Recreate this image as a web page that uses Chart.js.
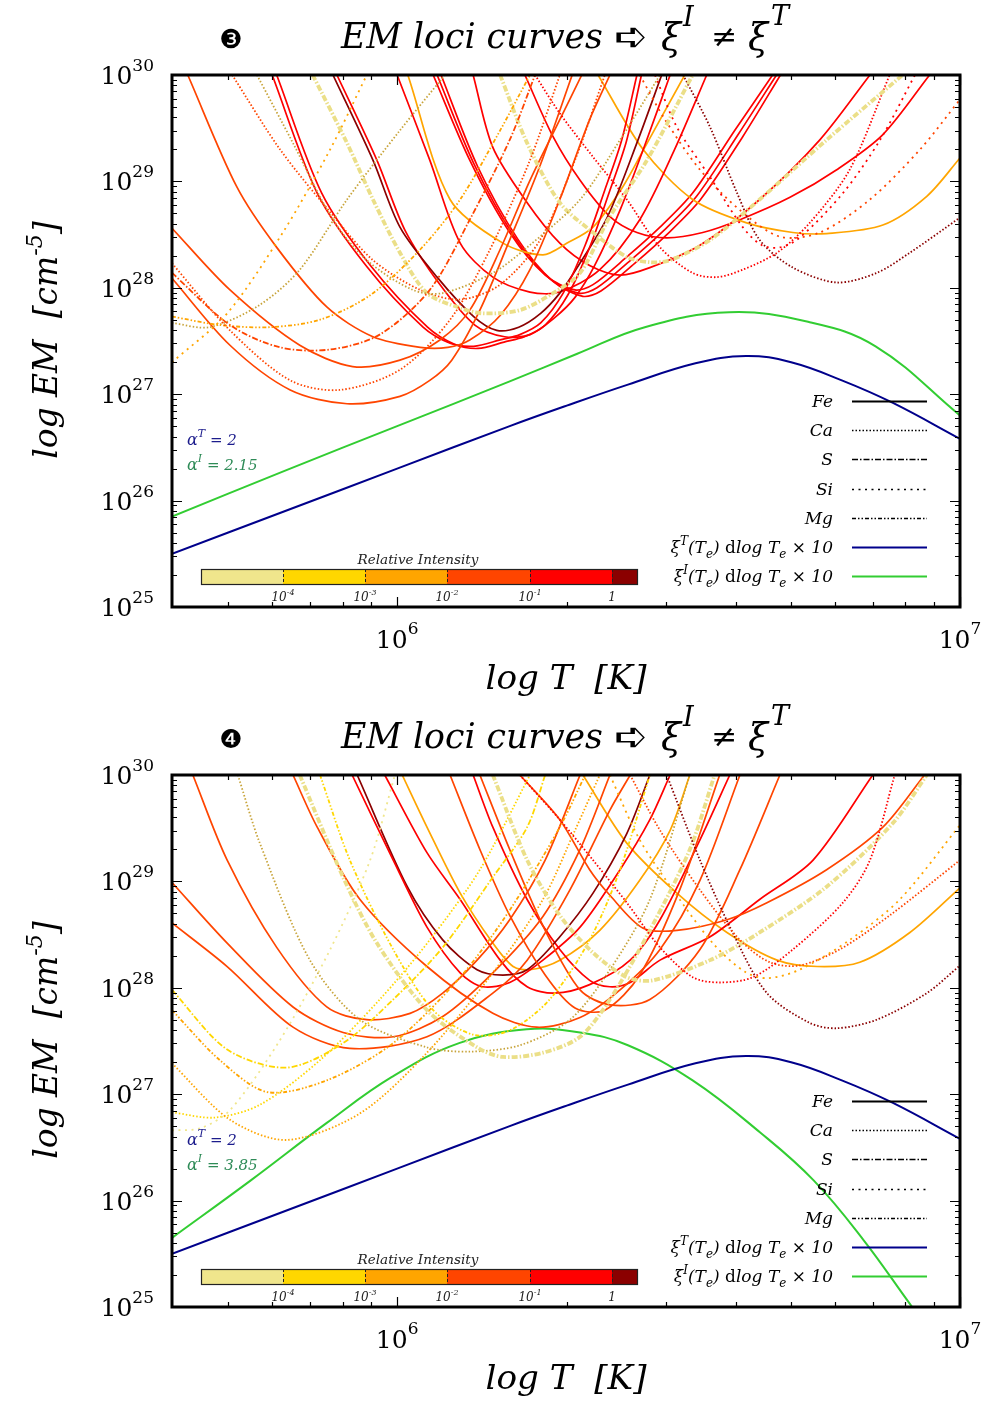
<!DOCTYPE html>
<html>
<head>
<meta charset="utf-8">
<script src="https://cdn.jsdelivr.net/npm/chart.js@4.4.1/dist/chart.umd.min.js"></script>
<style>
  html, body { margin: 0; padding: 0; background: #fff; }
  #wrap { position: relative; width: 984px; height: 1403px; }
  .panel { position: absolute; left: 0; width: 984px; }
</style>
</head>
<body>
<div id="wrap">
  <div class="panel" style="top:0;height:700px"><canvas id="c3" width="984" height="700"></canvas></div>
  <div class="panel" style="top:700px;height:703px"><canvas id="c4" width="984" height="703"></canvas></div>
</div>
<script>
// ******************************************************** DATA

// axis ranges, log10 of T [K] and EM [cm^-5]
const logTRange  = [5.6, 7.0];
const logEMRange = [25, 30];
const xTickDecades = [6, 7];
const yTickDecades = [25, 26, 27, 28, 29, 30];

// relative intensity bins: 0 = <1e-4 ... 5 = >1
const intensityExps = [-4, -3, -2, -1, 0];
const elements = ['Fe', 'Ca', 'S', 'Si', 'Mg'];

// xi^T(Te) dlogTe x 10, same in both panels
const xiT_logT  = [5.6, 5.8, 6.0, 6.2, 6.3, 6.41, 6.53, 6.62, 6.70, 6.79, 6.88, 7.0];
const xiT_logEM = [25.50, 25.90, 26.30, 26.70, 26.89, 27.09, 27.29, 27.36, 27.30, 27.13, 26.92, 26.58];

// xi^I(Te) dlogTe x 10
const xiI3_logT  = [5.6, 5.8, 6.0, 6.2, 6.32, 6.44, 6.59, 6.73, 6.85, 7.0];
const xiI3_logEM = [25.85, 26.28, 26.70, 27.12, 27.38, 27.63, 27.77, 27.68, 27.45, 26.80];
const xiI4_logT  = [5.6, 5.74, 5.875, 5.99, 6.11, 6.23, 6.325, 6.41, 6.525, 6.645, 6.74, 6.83, 6.915, 7.0];
const xiI4_logEM = [25.65, 26.19, 26.73, 27.16, 27.48, 27.61, 27.58, 27.46, 27.13, 26.64, 26.19, 25.62, 25.0, 24.4];

const alphaT  = '2';
const alphaI3 = '2.15';
const alphaI4 = '3.85';

// EM loci curves, panel 3
const loci3 = [
  { el: 'Ca', bin: 3, logT: [5.60, 5.703, 5.81, 5.898, 6.005, 6.094, 6.165, 6.236, 6.289],
    logEM: [28.23, 27.60, 27.13, 27.04, 27.23, 27.70, 28.36, 29.20, 30.0] },
  { el: 'S', bin: 3, logT: [5.60, 5.703, 5.792, 5.881, 5.969, 6.058, 6.129, 6.20, 6.245],
    logEM: [28.14, 27.65, 27.44, 27.42, 27.56, 27.98, 28.64, 29.39, 30.0] },
  { el: 'Mg', bin: 2, logT: [5.60, 5.685, 5.774, 5.863, 5.952, 6.041, 6.112, 6.183, 6.236],
    logEM: [27.73, 27.65, 27.63, 27.70, 27.93, 28.36, 28.83, 29.48, 30.0] },
  { el: 'Ca', bin: 0, logT: [5.60, 5.667, 5.756, 5.827, 5.911, 6.005, 6.085],
    logEM: [27.67, 27.63, 27.84, 28.17, 28.83, 29.48, 30.0] },
  { el: 'Si', bin: 2, logT: [5.60, 5.698, 5.797, 5.881, 5.946],
    logEM: [27.30, 27.76, 28.52, 29.30, 30.0] },
  { el: 'Ca', bin: 0, logT: [5.751, 5.815, 5.886, 5.946, 6.028, 6.081, 6.170, 6.231, 6.325, 6.396, 6.467],
    logEM: [30.0, 29.36, 28.64, 28.26, 27.98, 27.95, 28.14, 28.38, 28.83, 29.39, 30.0] },
  { el: 'S', bin: 0, logT: [5.85, 5.911, 5.957, 6.005, 6.053, 6.112, 6.152, 6.218, 6.277, 6.325, 6.378, 6.444, 6.525],
    logEM: [30.0, 29.36, 28.83, 28.33, 27.95, 27.81, 27.76, 27.79, 27.95, 28.14, 28.67, 29.20, 30.0] },
  { el: 'S', bin: 0, logT: [6.183, 6.231, 6.289, 6.348, 6.408, 6.449, 6.485, 6.556, 6.644, 6.763, 6.898],
    logEM: [30.0, 29.36, 28.80, 28.52, 28.29, 28.24, 28.26, 28.45, 28.83, 29.39, 30.0] },
  { el: 'Ca', bin: 4, logT: [6.245, 6.289, 6.348, 6.408, 6.467, 6.525, 6.568, 6.614, 6.675, 6.733, 6.804, 6.875],
    logEM: [30.0, 29.64, 29.23, 28.83, 28.38, 28.14, 28.10, 28.17, 28.33, 28.61, 29.11, 30.0] },
  { el: 'Si', bin: 4, logT: [6.458, 6.497, 6.556, 6.614, 6.648, 6.680, 6.715, 6.792, 6.858, 6.920],
    logEM: [30.0, 29.51, 29.04, 28.57, 28.40, 28.38, 28.47, 28.89, 29.39, 30.0] },
  { el: 'Si', bin: 3, logT: [6.431, 6.476, 6.538, 6.609, 6.680, 6.751, 6.840, 6.929, 7.0],
    logEM: [30.0, 29.58, 29.11, 28.73, 28.48, 28.52, 28.83, 29.30, 29.77] },
  { el: 'Ca', bin: 5, logT: [6.508, 6.556, 6.604, 6.644, 6.703, 6.781, 6.852, 6.911, 7.0],
    logEM: [30.0, 29.51, 28.89, 28.45, 28.19, 28.05, 28.14, 28.33, 28.66] },
  { el: 'Ca', bin: 3, logT: [5.707, 5.792, 5.886, 5.957, 6.041, 6.112, 6.183, 6.254, 6.316, 6.369],
    logEM: [30.0, 29.30, 28.68, 28.26, 27.98, 27.89, 28.03, 28.45, 29.20, 30.0] },

  { el: 'Fe', bin: 3, logT: [5.60, 5.703, 5.81, 5.911, 6.005, 6.058, 6.097, 6.147, 6.20, 6.254, 6.311],
    logEM: [28.09, 27.46, 27.04, 26.91, 26.98, 27.13, 27.32, 27.79, 28.45, 29.15, 30.0] },
  { el: 'Fe', bin: 3, logT: [5.60, 5.703, 5.827, 5.921, 6.005, 6.076, 6.129, 6.183, 6.236, 6.289, 6.328],
    logEM: [28.56, 27.98, 27.46, 27.26, 27.32, 27.51, 27.79, 28.36, 29.01, 29.58, 30.0] },
  { el: 'Fe', bin: 3, logT: [5.628, 5.715, 5.786, 5.875, 5.957, 6.041, 6.09, 6.129, 6.183, 6.236, 6.289, 6.342, 6.378],
    logEM: [30.0, 28.95, 28.38, 27.82, 27.54, 27.44, 27.44, 27.51, 27.74, 28.17, 28.83, 29.58, 30.0] },
  { el: 'Fe', bin: 4, logT: [5.778, 5.858, 5.946, 6.046, 6.094, 6.136, 6.183, 6.218, 6.255, 6.295, 6.334, 6.369, 6.399, 6.426],
    logEM: [30.0, 28.89, 28.20, 27.63, 27.48, 27.45, 27.51, 27.56, 27.67, 27.95, 28.40, 28.92, 29.39, 30.0] },
  { el: 'Fe', bin: 4, logT: [5.786, 5.866, 5.954, 6.054, 6.102, 6.144, 6.19, 6.226, 6.263, 6.303, 6.342, 6.377, 6.407, 6.434],
    logEM: [30.0, 28.89, 28.20, 27.63, 27.47, 27.43, 27.49, 27.54, 27.65, 27.93, 28.38, 28.90, 29.37, 30.0] },
  { el: 'Fe', bin: 5, logT: [5.886, 5.957, 6.005, 6.071, 6.136, 6.177, 6.216, 6.255, 6.289, 6.321, 6.374, 6.428, 6.47],
    logEM: [30.0, 29.20, 28.57, 28.10, 27.73, 27.60, 27.63, 27.76, 27.95, 28.20, 28.67, 29.39, 30.0] },
  { el: 'Fe', bin: 4, logT: [5.893, 5.964, 6.014, 6.076, 6.138, 6.191, 6.236, 6.28, 6.316, 6.351, 6.396, 6.44, 6.485],
    logEM: [30.0, 29.20, 28.54, 28.03, 27.65, 27.54, 27.56, 27.72, 27.91, 28.21, 28.73, 29.34, 30.0] },
  { el: 'Fe', bin: 4, logT: [6.0, 6.058, 6.112, 6.17, 6.236, 6.289, 6.36, 6.431, 6.493, 6.55],
    logEM: [30.0, 29.20, 28.42, 28.10, 27.96, 27.96, 28.17, 28.64, 29.30, 30.0] },
  { el: 'Fe', bin: 2, logT: [6.019, 6.094, 6.188, 6.259, 6.302, 6.348, 6.401, 6.44, 6.511],
    logEM: [30.0, 28.83, 28.42, 28.31, 28.42, 28.57, 28.95, 29.32, 30.0] },
  { el: 'Fe', bin: 2, logT: [6.357, 6.437, 6.525, 6.621, 6.703, 6.763, 6.863, 6.941, 7.0],
    logEM: [30.0, 29.30, 28.83, 28.61, 28.52, 28.51, 28.59, 28.86, 29.22] },
  { el: 'Fe', bin: 4, logT: [6.227, 6.277, 6.325, 6.378, 6.426, 6.479, 6.543, 6.609, 6.698, 6.781, 6.863, 6.946],
    logEM: [30.0, 29.42, 29.01, 28.67, 28.52, 28.47, 28.52, 28.64, 28.85, 29.11, 29.44, 30.0] },
  { el: 'Fe', bin: 4, logT: [6.135, 6.170, 6.231, 6.289, 6.342, 6.396, 6.449, 6.538, 6.644, 6.751, 6.840],
    logEM: [30.0, 29.32, 28.80, 28.42, 28.21, 28.12, 28.19, 28.40, 28.83, 29.39, 30.0] },
  { el: 'Fe', bin: 4, logT: [6.064, 6.129, 6.200, 6.263, 6.316, 6.348, 6.408, 6.467, 6.525, 6.600, 6.667],
    logEM: [30.0, 29.20, 28.52, 28.12, 27.98, 28.03, 28.29, 28.57, 28.89, 29.48, 30.0] },
  { el: 'Fe', bin: 4, logT: [6.071, 6.136, 6.207, 6.270, 6.323, 6.355, 6.415, 6.474, 6.532, 6.607, 6.674],
    logEM: [30.0, 29.17, 28.49, 28.09, 27.95, 28.00, 28.26, 28.54, 28.86, 29.45, 30.0] },
  { el: 'Fe', bin: 4, logT: [6.078, 6.143, 6.214, 6.277, 6.330, 6.362, 6.422, 6.481, 6.539, 6.614, 6.681],
    logEM: [30.0, 29.14, 28.46, 28.06, 27.92, 27.97, 28.23, 28.51, 28.83, 29.42, 30.0] }
];

// EM loci curves, panel 4
const loci4 = [
  { el: 'Ca', bin: 4, logT: [6.218, 6.289, 6.348, 6.408, 6.467, 6.525, 6.573, 6.632, 6.703, 6.792, 6.840, 6.884],
    logEM: [30.0, 29.58, 29.20, 28.80, 28.38, 28.10, 28.05, 28.10, 28.36, 28.80, 29.20, 30.0] },
  { el: 'Si', bin: 2, logT: [6.378, 6.431, 6.502, 6.564, 6.618, 6.657, 6.715, 6.804, 6.893, 7.0],
    logEM: [30.0, 29.39, 28.83, 28.40, 28.15, 28.09, 28.17, 28.45, 28.83, 29.53] },
  { el: 'Ca', bin: 3, logT: [6.414, 6.467, 6.538, 6.609, 6.662, 6.715, 6.786, 6.875, 7.0],
    logEM: [30.0, 29.48, 28.92, 28.45, 28.24, 28.21, 28.36, 28.68, 29.20] },
  { el: 'Ca', bin: 5, logT: [6.479, 6.538, 6.596, 6.657, 6.733, 6.781, 6.852, 6.941, 7.0],
    logEM: [30.0, 29.20, 28.52, 27.95, 27.67, 27.62, 27.70, 27.95, 28.21] },
  { el: 'S', bin: 0, logT: [6.170, 6.231, 6.289, 6.348, 6.408, 6.454, 6.556, 6.644, 6.763, 6.881, 6.941],
    logEM: [30.0, 29.20, 28.68, 28.33, 28.10, 28.07, 28.26, 28.52, 28.95, 29.55, 30.0] },
  { el: 'S', bin: 0, logT: [5.827, 5.904, 5.964, 6.053, 6.142, 6.188, 6.259, 6.325, 6.378, 6.449, 6.520, 6.564],
    logEM: [30.0, 29.04, 28.42, 27.79, 27.44, 27.35, 27.39, 27.54, 27.89, 28.54, 29.30, 30.0] },
  { el: 'S', bin: 1, logT: [5.60, 5.698, 5.804, 5.904, 5.993, 6.081, 6.170, 6.231, 6.263],
    logEM: [27.98, 27.42, 27.25, 27.48, 27.89, 28.38, 29.04, 29.51, 30.0] },
  { el: 'Mg', bin: 2, logT: [5.60, 5.685, 5.769, 5.875, 5.993, 6.112, 6.200, 6.289, 6.334],
    logEM: [27.79, 27.32, 27.02, 27.13, 27.48, 28.10, 28.73, 29.51, 30.0] },
  { el: 'Ca', bin: 2, logT: [5.60, 5.703, 5.804, 5.934, 6.053, 6.170, 6.259, 6.316, 6.360],
    logEM: [27.29, 26.76, 26.57, 26.82, 27.39, 28.14, 28.83, 29.48, 30.0] },
  { el: 'Si', bin: 0, logT: [5.60, 5.650, 5.703, 5.792, 5.881, 5.952, 5.996],
    logEM: [26.66, 26.68, 26.85, 27.51, 28.36, 29.20, 30.0] },
  { el: 'Ca', bin: 1, logT: [5.60, 5.676, 5.756, 5.863, 5.969, 6.058, 6.147, 6.236],
    logEM: [26.83, 26.78, 26.90, 27.32, 27.89, 28.45, 29.11, 30.0] },
  { el: 'Ca', bin: 0, logT: [5.717, 5.756, 5.845, 5.934, 6.053, 6.129, 6.218, 6.307, 6.378, 6.449, 6.520],
    logEM: [30.0, 29.36, 28.26, 27.70, 27.44, 27.40, 27.46, 27.70, 28.17, 28.83, 30.0] },
  { el: 'Mg', bin: 1, logT: [5.863, 5.916, 5.993, 6.064, 6.135, 6.200, 6.271, 6.342, 6.396, 6.449],
    logEM: [30.0, 29.20, 28.36, 27.79, 27.56, 27.60, 27.89, 28.45, 29.11, 30.0] },

  { el: 'Fe', bin: 3, logT: [5.637, 5.698, 5.786, 5.875, 5.946, 6.023, 6.081, 6.142, 6.200, 6.263, 6.325],
    logEM: [30.0, 29.20, 28.38, 27.82, 27.70, 27.76, 27.95, 28.26, 28.64, 29.20, 30.0] },
  { el: 'Fe', bin: 3, logT: [5.60, 5.698, 5.815, 5.904, 5.993, 6.081, 6.170, 6.259, 6.325, 6.378],
    logEM: [28.99, 28.42, 27.82, 27.58, 27.54, 27.73, 28.14, 28.67, 29.30, 30.0] },
  { el: 'Fe', bin: 3, logT: [5.60, 5.698, 5.815, 5.916, 6.053, 6.170, 6.231, 6.307, 6.378, 6.414],
    logEM: [28.61, 28.20, 27.63, 27.43, 27.54, 27.95, 28.26, 28.92, 29.67, 30.0] },
  { el: 'Fe', bin: 3, logT: [5.815, 5.858, 5.934, 6.053, 6.170, 6.248, 6.325, 6.396, 6.467, 6.538, 6.609],
    logEM: [30.0, 29.51, 28.83, 28.20, 27.76, 27.63, 27.72, 27.98, 28.36, 29.01, 30.0] },
  { el: 'Fe', bin: 3, logT: [6.218, 6.289, 6.342, 6.378, 6.437, 6.497, 6.586, 6.657, 6.763, 6.863, 6.937],
    logEM: [30.0, 29.58, 29.11, 28.87, 28.56, 28.54, 28.64, 28.80, 29.11, 29.51, 30.0] },
  { el: 'Fe', bin: 3, logT: [6.094, 6.147, 6.200, 6.263, 6.316, 6.369, 6.431, 6.502, 6.573],
    logEM: [30.0, 29.30, 28.68, 28.12, 27.81, 27.79, 28.12, 28.92, 30.0] },
  { el: 'Fe', bin: 3, logT: [6.147, 6.200, 6.263, 6.325, 6.378, 6.449, 6.538, 6.609, 6.680],
    logEM: [30.0, 29.30, 28.54, 27.98, 27.84, 27.89, 28.36, 29.11, 30.0] },
  { el: 'Fe', bin: 4, logT: [5.920, 5.993, 6.053, 6.112, 6.152, 6.200, 6.259, 6.325, 6.396, 6.449, 6.485],
    logEM: [30.0, 29.20, 28.57, 28.14, 28.01, 28.05, 28.26, 28.57, 29.11, 29.58, 30.0] },
  { el: 'Fe', bin: 5, logT: [5.929, 6.018, 6.081, 6.142, 6.188, 6.231, 6.289, 6.348, 6.408, 6.449],
    logEM: [30.0, 28.95, 28.45, 28.17, 28.12, 28.17, 28.48, 28.89, 29.45, 30.0] },
  { el: 'Fe', bin: 4, logT: [5.978, 6.053, 6.112, 6.183, 6.231, 6.280, 6.342, 6.414, 6.467, 6.538, 6.591],
    logEM: [30.0, 29.27, 28.83, 28.26, 28.01, 27.95, 28.03, 28.26, 28.64, 29.39, 30.0] },
  { el: 'Fe', bin: 4, logT: [6.135, 6.170, 6.231, 6.289, 6.342, 6.378, 6.414, 6.467, 6.556, 6.644, 6.739, 6.845],
    logEM: [30.0, 29.51, 28.83, 28.36, 28.07, 28.01, 28.05, 28.26, 28.48, 28.83, 29.20, 30.0] },
  { el: 'Fe', bin: 2, logT: [6.009, 6.053, 6.112, 6.170, 6.206, 6.236, 6.289, 6.360, 6.431, 6.485, 6.520],
    logEM: [30.0, 29.51, 28.89, 28.42, 28.20, 28.17, 28.26, 28.54, 29.01, 29.48, 30.0] },
  { el: 'Fe', bin: 2, logT: [6.330, 6.408, 6.497, 6.586, 6.675, 6.746, 6.822, 6.911, 7.0],
    logEM: [30.0, 29.36, 28.89, 28.52, 28.26, 28.20, 28.24, 28.52, 28.94] }
];

// ******************************************************** STYLE

const SERIF = '"DejaVu Serif", serif';
const SANS  = '"DejaVu Sans", sans-serif';
const binColors  = ['#f0e68c', '#ffd700', '#ffa500', '#ff4500', '#ff0000', '#8b0000'];
const elementDash = { Fe: [], Ca: [1.5, 2], S: [6, 2, 1.5, 2], Si: [2, 4.5], Mg: [4, 2, 1.5, 2, 1.5, 2] };
const xiTColor = '#00008b', xiIColor = '#32cd32';
const alphaTColor = '#1c1c8c', alphaIColor = '#2e8b57';

function curveColor(c) {
  if (c.bin === 0 && c.el === 'Ca') return '#c8a43a';
  if (c.bin === 0 && c.el === 'S') return '#ebdf88';
  return binColors[c.bin];
}

function pts(logT, logEM) {
  return logT.map((t, i) => ({ x: Math.pow(10, t), y: Math.pow(10, logEM[i]) }));
}

function lociDatasets(curves) {
  return curves.map(c => ({
    data: pts(c.logT, c.logEM),
    borderColor: curveColor(c),
    borderWidth: (c.bin === 0 && c.el === 'S') ? 3.8 : (c.el === 'Fe' ? 1.7 : 1.8),
    borderDash: elementDash[c.el],
    tension: 0.3,
    pointRadius: 0,
    fill: false
  }));
}

// draws a row of text pieces (base, super- and subscripts) from x
function runs(ctx, parts, x, y, align) {
  let w = 0;
  parts.forEach(p => { ctx.font = p.f; p.w = ctx.measureText(p.t).width; w += p.w; });
  let cx = align === 'right' ? x - w : align === 'center' ? x - w / 2 : x;
  ctx.textAlign = 'left';
  parts.forEach(p => { ctx.font = p.f; ctx.fillText(p.t, cx, y + (p.dy || 0)); cx += p.w; });
  return w;
}

// font size that makes text span a given width
function fitSize(ctx, text, style, family, width) {
  ctx.font = style + ' 40px ' + family;
  return 40 * width / ctx.measureText(text).width;
}

// ******************************************************** DECORATION

function decor(num, alphaI) {
  return {
    id: 'decor' + num,
    afterDatasetsDraw(chart) {
      const { ctx, chartArea: a, scales: { x, y } } = chart;
      ctx.save();
      ctx.strokeStyle = '#000';
      ctx.lineWidth = 1.2;
      ctx.beginPath();
      // inward ticks, y
      for (let e = logEMRange[0]; e <= logEMRange[1]; e++) {
        for (let m = 1; m < 10; m++) {
          if (e === logEMRange[1] && m > 1) break;
          const py = Math.round(y.getPixelForValue(m * Math.pow(10, e))) + 0.5;
          const len = m === 1 ? 10 : 5;
          ctx.moveTo(a.left, py); ctx.lineTo(a.left + len, py);
          ctx.moveTo(a.right, py); ctx.lineTo(a.right - len, py);
        }
      }
      // inward ticks, x
      for (let e = 5; e <= 7; e++) {
        for (let m = 1; m < 10; m++) {
          const v = m * Math.pow(10, e);
          if (v < Math.pow(10, logTRange[0]) * 1.01 || v > Math.pow(10, logTRange[1]) * 1.001) continue;
          const px = Math.round(x.getPixelForValue(v)) + 0.5;
          const len = m === 1 ? 10 : 5;
          ctx.moveTo(px, a.bottom); ctx.lineTo(px, a.bottom - len);
          ctx.moveTo(px, a.top); ctx.lineTo(px, a.top + len);
        }
      }
      ctx.stroke();
      ctx.lineWidth = 3;
      ctx.strokeRect(a.left, a.top, a.right - a.left, a.bottom - a.top);
      ctx.restore();
    },
    afterDraw(chart) {
      const { ctx, chartArea: a, scales: { x, y } } = chart;
      ctx.save();
      ctx.fillStyle = '#000';
      ctx.textBaseline = 'alphabetic';

      // tick labels
      yTickDecades.forEach(e => {
        const py = y.getPixelForValue(Math.pow(10, e));
        runs(ctx, [{ t: '10', f: '25px ' + SERIF }, { t: String(e), f: '17px ' + SERIF, dy: -13 }], 154, py + 9, 'right');
      });
      xTickDecades.forEach(e => {
        const px = x.getPixelForValue(Math.pow(10, e));
        runs(ctx, [{ t: '10', f: '25px ' + SERIF }, { t: String(e), f: '17px ' + SERIF, dy: -14 }], px, a.bottom + 41, 'center');
      });

      // axis titles
      const ts = fitSize(ctx, 'log T  [K]', 'italic', SERIF, 161);
      runs(ctx, [{ t: 'log T  [K]', f: 'italic ' + ts + 'px ' + SERIF }], 566, a.bottom + 82, 'center');

      ctx.save();
      ctx.translate(57, 340);
      ctx.rotate(-Math.PI / 2);
      const ys = fitSize(ctx, 'log EM  [cm-5]', 'italic', SERIF, 248);
      runs(ctx, [
        { t: 'log EM  [cm', f: 'italic ' + ys + 'px ' + SERIF },
        { t: '-5', f: 'italic ' + (ys * 0.68) + 'px ' + SERIF, dy: -ys * 0.45 },
        { t: ']', f: 'italic ' + ys + 'px ' + SERIF }
      ], 0, 0, 'center');
      ctx.restore();

      // title
      ctx.font = '26px ' + SANS;
      ctx.textAlign = 'center';
      ctx.fillText(num === 3 ? '\u2778' : '\u2779', 231, 48);
      const hs = fitSize(ctx, 'EM loci curves', 'italic', SERIF, 262);
      ctx.textAlign = 'left';
      ctx.font = 'italic ' + hs + 'px ' + SERIF;
      ctx.fillText('EM loci curves', 341, 48);
      ctx.font = '40px ' + SANS;
      ctx.fillText('\u27AA', 614, 50);
      ctx.font = 'italic ' + (hs * 1.05) + 'px ' + SERIF;
      ctx.fillText('\u03BE', 661, 50);
      ctx.fillText('\u03BE', 748, 50);
      ctx.font = (hs * 0.9) + 'px ' + SERIF;
      ctx.fillText('\u2260', 711, 47);
      ctx.font = 'italic ' + (hs * 0.78) + 'px ' + SERIF;
      ctx.fillText('I', 683, 26);
      ctx.fillText('T', 771, 25);

      // element / xi legend
      const lf = 'italic 17px ' + SERIF, lfs = 'italic 12px ' + SERIF;
      const rowY = [401, 430, 459, 489, 518, 547, 576];
      elements.forEach((el, i) => {
        ctx.fillStyle = '#000';
        runs(ctx, [{ t: el, f: lf }], 833, rowY[i] + 6, 'right');
        ctx.strokeStyle = '#000';
        ctx.lineWidth = el === 'Fe' ? 1.8 : 1.5;
        ctx.setLineDash(elementDash[el]);
        ctx.beginPath(); ctx.moveTo(852, rowY[i] + 0.5); ctx.lineTo(927, rowY[i] + 0.5); ctx.stroke();
      });
      ctx.setLineDash([]);
      ['T', 'I'].forEach((s, k) => {
        const ry = rowY[5 + k];
        ctx.fillStyle = '#000';
        runs(ctx, [
          { t: '\u03BE', f: lf },
          { t: s, f: lfs, dy: -8 },
          { t: '(T', f: lf },
          { t: 'e', f: lfs, dy: 5 },
          { t: ') ', f: lf },
          { t: 'd', f: '17px ' + SERIF },
          { t: 'log T', f: lf },
          { t: 'e', f: lfs, dy: 5 },
          { t: ' \u00D7 10', f: lf }
        ], 833, ry + 6, 'right');
        ctx.strokeStyle = k === 0 ? xiTColor : xiIColor;
        ctx.lineWidth = 2;
        ctx.beginPath(); ctx.moveTo(852, ry + 0.5); ctx.lineTo(927, ry + 0.5); ctx.stroke();
      });

      // slope notes
      ctx.fillStyle = alphaTColor;
      runs(ctx, [{ t: '\u03B1', f: 'italic 16px ' + SERIF }, { t: 'T', f: 'italic 11px ' + SERIF, dy: -8 },
                 { t: ' = ' + alphaT, f: 'italic 15px ' + SERIF }], 187, 445, 'left');
      ctx.fillStyle = alphaIColor;
      runs(ctx, [{ t: '\u03B1', f: 'italic 16px ' + SERIF }, { t: 'I', f: 'italic 11px ' + SERIF, dy: -8 },
                 { t: ' = ' + alphaI, f: 'italic 15px ' + SERIF }], 187, 470, 'left');

      // relative intensity colour bar
      const bx = [201, 283, 365, 447, 530, 612, 637], by = 569, bh = 15;
      binColors.forEach((c, i) => { ctx.fillStyle = c; ctx.fillRect(bx[i], by, bx[i + 1] - bx[i], bh); });
      ctx.strokeStyle = '#222';
      ctx.lineWidth = 1;
      ctx.setLineDash([3, 2]);
      ctx.beginPath();
      for (let i = 1; i < 6; i++) { ctx.moveTo(bx[i] + 0.5, by); ctx.lineTo(bx[i] + 0.5, by + bh); }
      ctx.stroke();
      ctx.setLineDash([]);
      ctx.lineWidth = 1.2;
      ctx.strokeRect(bx[0] + 0.5, by + 0.5, bx[6] - bx[0], bh);
      ctx.fillStyle = '#222';
      intensityExps.forEach((e, i) => {
        if (e === 0) runs(ctx, [{ t: '1', f: 'italic 12px ' + SERIF }], bx[i + 1], 601, 'center');
        else runs(ctx, [{ t: '10', f: 'italic 12px ' + SERIF }, { t: String(e), f: 'italic 8px ' + SERIF, dy: -6 }], bx[i + 1], 601, 'center');
      });
      const rs = fitSize(ctx, 'Relative Intensity', 'italic', SERIF, 121);
      runs(ctx, [{ t: 'Relative Intensity', f: 'italic ' + rs + 'px ' + SERIF }], 418, 564, 'center');

      ctx.restore();
    }
  };
}

// ******************************************************** CHARTS

function makePanel(id, num, curves, xiI_logT, xiI_logEM, alphaI, padBottom) {
  const datasets = lociDatasets(curves);
  datasets.push({ data: pts(xiT_logT, xiT_logEM), borderColor: xiTColor, borderWidth: 2,
                  tension: 0.4, pointRadius: 0, fill: false });
  datasets.push({ data: pts(xiI_logT, xiI_logEM), borderColor: xiIColor, borderWidth: 2,
                  tension: 0.4, pointRadius: 0, fill: false });

  return new Chart(document.getElementById(id).getContext('2d'), {
    type: 'line',
    data: { datasets },
    options: {
      responsive: false,
      animation: false,
      events: [],
      layout: { padding: { left: 172, right: 24, top: 75, bottom: padBottom } },
      plugins: { legend: { display: false }, tooltip: { enabled: false } },
      scales: {
        x: { type: 'logarithmic', min: Math.pow(10, logTRange[0]), max: Math.pow(10, logTRange[1]), display: false },
        y: { type: 'logarithmic', min: Math.pow(10, logEMRange[0]), max: Math.pow(10, logEMRange[1]), display: false }
      }
    },
    plugins: [decor(num, alphaI)]
  });
}

makePanel('c3', 3, loci3, xiI3_logT, xiI3_logEM, alphaI3, 93);
makePanel('c4', 4, loci4, xiI4_logT, xiI4_logEM, alphaI4, 96);
</script>
</body>
</html>
